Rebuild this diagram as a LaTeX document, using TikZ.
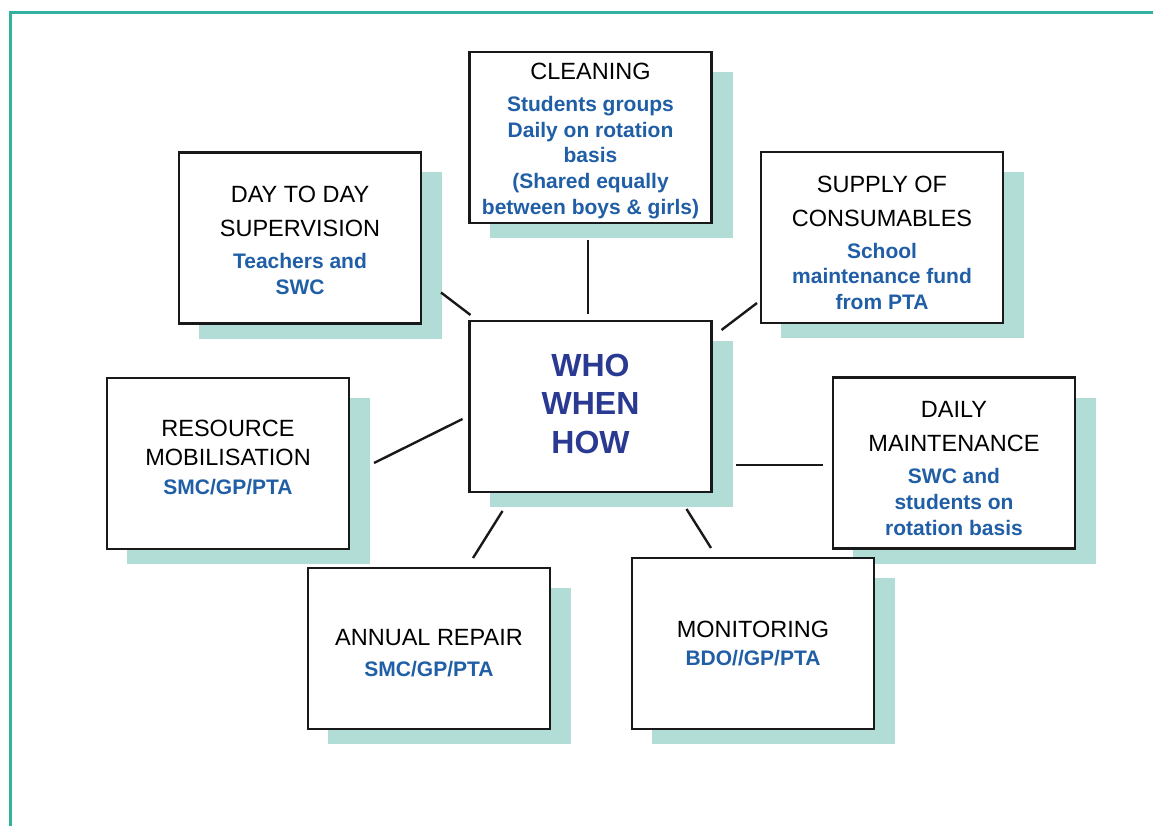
\documentclass[tikz,border=0pt]{standalone}
\usepackage{fontspec}
\setmainfont{Liberation Sans}
\usepackage{tikz}
\usetikzlibrary{backgrounds}

\definecolor{frameteal}{RGB}{50,176,160}
\definecolor{shadowteal}{RGB}{178,220,214}
\definecolor{boxblue}{RGB}{32,94,166}
\definecolor{whoblue}{RGB}{42,57,145}

\newcommand{\boxtitle}[1]{{\fontsize{23.5}{28}\selectfont\mdseries\color{black}#1}}
\newcommand{\padtop}[1]{\rule{0pt}{#1}}
\newcommand{\padbot}[1]{\rule[-#1]{0pt}{0pt}}

\tikzset{
    taskbox/.style={draw=black!90, line width=2.4pt, fill=white, minimum width=242, minimum height=171,
        inner sep=0pt, outer sep=0pt, align=center, font=\fontsize{21}{25.7}\selectfont\bfseries, text=boxblue},
    link/.style={line width=2.4pt, black!90},
    boxshadow/.style={fill=shadowteal}
}

\begin{document}
\begin{tikzpicture}[x=1pt, y=-1pt]

    \useasboundingbox (0,0) rectangle (1153,826);
    \draw[frameteal, line width=3pt] (10.5,826) -- (10.5,12.5) -- (1153,12.5);

    \node[taskbox] (clean) at (590.5,137.5) {\padtop{23pt}\boxtitle{CLEANING}\\[6.3pt] Students groups\\ Daily on rotation\\ basis\\ (Shared equally\\ between boys \& girls)};
    \node[taskbox] (day) at (300,238) {\padtop{21pt}\boxtitle{DAY TO DAY}\\[8.3pt] \boxtitle{SUPERVISION}\\[6.3pt] Teachers and\\ SWC};
    \node[taskbox] (supply) at (882,237.5) {\padtop{27pt}\boxtitle{SUPPLY OF}\\[8.3pt] \boxtitle{CONSUMABLES}\\[6.3pt] School\\ maintenance fund\\ from PTA};
    \node[taskbox, font=\fontsize{32}{38.5}\selectfont\bfseries, text=whoblue] (who) at (590.5,406.5) {WHO\\ WHEN\\ HOW\padbot{6pt}};
    \node[taskbox] (res) at (228,463.5) {\boxtitle{RESOURCE}\\[3.3pt] \boxtitle{MOBILISATION}\\[3.3pt] SMC/GP/PTA\padbot{12pt}};
    \node[taskbox] (daily) at (954,463) {\padtop{27pt}\boxtitle{DAILY}\\[8.3pt] \boxtitle{MAINTENANCE}\\[6.3pt] SWC and\\ students on\\ rotation basis};
    \node[taskbox, minimum height=161] (annual) at (429,648.5) {\padtop{25pt}\boxtitle{ANNUAL REPAIR}\\[5pt] SMC/GP/PTA};
    \node[taskbox] (monitor) at (753,643.5) {\boxtitle{MONITORING}\\[3pt] BDO//GP/PTA};

    \begin{scope}[on background layer]
        \foreach \n in {clean,day,supply,who,res,daily,annual,monitor}
        \fill[boxshadow] ([shift={(20,20)}]\n.north west) rectangle ([shift={(21,15)}]\n.south east);
    \end{scope}

    \draw[link] ([shift={(-2.5,-7)}]who.north) -- ([shift={(-2.5,17)}]clean.south);
    \draw[link] ([shift={(1,-6)}]who.north west) -- ([shift={(20,-31)}]day.south east);
    \draw[link] ([shift={(10,9)}]who.north east) -- ([shift={(-4,-20)}]supply.south west);
    \draw[link] ([shift={(-7,12.5)}]who.west) -- ([shift={(25,-0.5)}]res.east);
    \draw[link] ([shift={(24,-27)}]who.south east) -- ([shift={(-10,2)}]daily.west);
    \draw[link] ([shift={(33,19)}]who.south west) -- ([shift={(44,-10)}]annual.north);
    \draw[link] ([shift={(-25,17)}]who.south east) -- ([shift={(-42,-10)}]monitor.north);

\end{tikzpicture}
\end{document}
